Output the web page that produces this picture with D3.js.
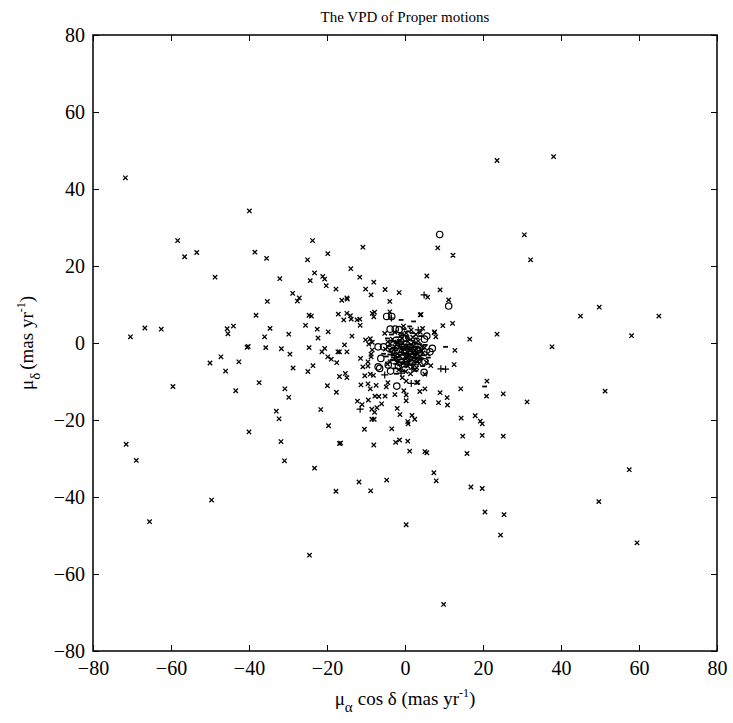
<!DOCTYPE html>
<html>
<head>
<script src="https://d3js.org/d3.v7.min.js"></script>
<meta charset="utf-8">
<style>
body { margin: 0; background: white; }
text { font-family: "Liberation Serif", "DejaVu Serif", serif; fill: black; }
.axis path { display: none; }
.axis line { stroke: black; stroke-width: 1; }
.axis text { font-size: 20px; }
</style>
</head>
<body>
<div id="chart"></div>
<script>

// tick values on both axes
var ticks = [-80, -60, -40, -20, 0, 20, 40, 60, 80];

// field stars (x markers), [pmRA, pmDec] in mas/yr
var crossStars = [
  [-71.7,42.9],[-39.9,34.3],[-58.3,26.6],[-56.5,22.4],[-53.4,23.5],[-38.5,23.6],[-35.5,22.0],[-23.7,26.6],
  [-25.0,21.6],[-19.8,23.2],[-48.7,17.1],[-32.1,16.7],[-23.2,18.2],[-24.3,16.2],[-21.1,17.3],[-20.6,16.6],
  [-20.2,14.9],[-17.7,14.0],[-28.8,12.9],[-27.1,11.7],[-27.6,10.9],[-35.3,10.8],[-38.2,7.2],[-24.6,7.2],
  [-24.0,7.0],[-17.1,7.5],[-66.7,3.9],[-62.5,3.6],[-70.4,1.6],[-45.6,3.7],[-45.4,2.4],[-44.0,4.4],
  [-34.6,3.8],[-36.0,1.6],[-29.8,2.3],[-25.5,4.6],[-22.5,3.6],[-22.3,1.3],[-19.7,2.9],[-40.5,-1.1],
  [-40.2,-0.9],[-35.7,-1.2],[-31.7,-1.5],[-24.6,-1.2],[-20.6,-1.4],
  [-29.5,-2.9],[-21.3,-2.3],[-19.8,-3.6],[-18.9,-4.2],[-17.2,-2.3],[-17.5,-5.1],[-50.0,-5.2],[-47.2,-3.6],
  [-42.6,-4.9],[-46.0,-7.3],[-28.7,-6.5],[-23.6,-5.9],[-24.9,-7.4],[-16.8,-8.7],[-59.5,-11.3],[-37.4,-10.3],
  [-43.4,-12.4],[-30.8,-11.9],[-29.8,-14.1],[-19.9,-11.1],[-17.6,-12.8],[-33.0,-17.7],[-32.3,-19.7],[-21.6,-17.3],
  [-19.6,-21.5],[-40.0,-23.1],[-31.8,-25.6],[-16.8,-26.1],[-71.5,-26.3],[-68.9,-30.5],[-30.9,-30.6],[-23.2,-32.5],
  [-17.7,-38.5],[-49.6,-40.8],[-65.5,-46.4],[-24.5,-55.1],
  [23.6,47.4],[38.1,48.4],[30.6,28.1],[8.4,24.7],[12.3,22.8],[32.2,21.6],[5.6,17.4],[9.0,13.8],
  [5.8,11.9],[11.2,11.2],[4.1,7.4],[49.8,9.3],[45.0,7.0],[65.1,7.0],[9.7,4.5],[12.2,5.1],
  [7.5,2.7],[23.6,2.3],[58.1,1.9],[16.6,1.0],[37.7,-1.0],
  [12.8,-1.9],[12.6,-5.6],[21.0,-9.9],[20.9,-13.8],[25.2,-13.2],[31.3,-15.3],[51.3,-12.5],[14.3,-11.9],
  [5.1,-11.9],[9.0,-12.9],[10.8,-14.2],[4.8,-15.3],[8.6,-15.5],[10.9,-16.1],[14.4,-19.5],[18.0,-18.9],
  [19.3,-20.3],[19.8,-21.0],[14.8,-24.2],[19.8,-24.0],[25.2,-24.2],[5.1,-28.2],[5.6,-28.5],[15.9,-28.7],
  [57.5,-32.9],[7.4,-33.7],[8.0,-35.8],[16.9,-37.4],[19.8,-37.8],[49.7,-41.2],[20.5,-43.9],[25.4,-44.6],
  [24.5,-49.9],[59.5,-51.9],[9.9,-67.9],
  [-10.8,24.9],[-13.9,19.3],[-11.6,17.1],[-8.0,15.8],[-10.1,14.0],[-8.7,12.5],[-5.1,13.9],[-1.5,13.1],[-14.9,11.7],
  [-11.3,-10.9],[-9.5,-10.6],[-8.9,-11.9],[-7.4,-11.0],[-4.4,-10.3],[-4.8,-11.4],[0.3,-9.9],[3.0,-10.3],
  [-0.3,-12.4],[0.3,-13.5],[3.8,-12.6],[-2.6,-13.4],[-7.7,-13.8],[-6.7,-13.9],[-5.1,-13.8],[-9.4,-14.8],
  [-12.2,-15.1],[-11.0,-16.0],[0.3,-15.0],[-6.0,-15.8],[-7.2,-16.8],[-8.5,-17.2],[-7.8,-18.0],[-2.0,-17.0],
  [-1.3,-18.6],[1.8,-18.8],[2.5,-19.8],[0.7,-20.4],[0.8,-21.0],[-8.5,-19.8],[-7.9,-19.8],[-10.4,-22.4],
  [-3.4,-22.3],[-16.5,-26.0],[-8.0,-26.5],[-2.4,-25.8],[-1.4,-25.2],[0.7,-25.5],[1.2,-28.1],[-11.8,-36.1],
  [-4.7,-35.6],[-8.8,-38.4],[0.3,-47.2],
  [-16.2,11.1],[-14.8,11.4],[-3.9,10.8],[-14.9,7.7],[-14.0,7.1],[-15.7,6.0],[-13.8,6.2],[-12.3,6.0],
  [-11.6,6.2],[-11.5,4.6],[-8.4,7.7],[-8.0,6.8],[-7.8,8.0],[-3.9,8.1],[3.9,7.3],[-13.6,1.8],
  [-10.1,0.8],[-8.9,1.1],[-8.4,0.2],[-9.3,-0.3],[7.6,2.9],[7.9,1.6],[-15.5,-0.5],[-16.8,-2.3],
  [-14.9,-2.3],[-8.4,-1.8],[-8.7,-2.9],[-11.4,-4.0],[-9.5,-4.9],[-8.7,-3.6],[-10.8,-6.2],[-9.5,-6.0],
  [-15.3,-7.9],[-14.9,-9.0],[-10.3,-8.5],[-8.9,-8.1],[-8.1,-8.4],[2.5,-7.0],[-0.7,-9.0],[3.3,-10.2],
  [6.6,-5.9],[5.1,-8.1],
  [-1.0,-1.5],[1.5,-0.5],[2.8,-2.5],[-2.2,-4.0],[0.5,-3.8],[-3.8,-0.2],[4.2,-2.0],[-0.8,1.2],
  [2.0,1.5],[-4.5,-5.5],[5.5,-5.0],[4.5,3.8],[-5.2,2.5],[-2.8,-1.6],[1.0,-5.2],[3.2,-4.6],
  [-3.2,1.0],[-2.0,0.2],[-0.5,0.0],[0.8,0.4],[2.2,-0.8],[3.4,0.5],[-3.9,-1.8],[-2.6,-0.9],
  [-1.4,-1.2],[0.2,-1.0],[1.7,-1.8],[3.0,-1.6],[4.3,-0.9],[-3.1,-2.9],[-1.9,-2.8],[-0.7,-2.0],
  [0.6,-2.4],[1.9,-2.5],[3.2,-2.9],[4.6,-2.6],[-2.7,-4.1],[-1.3,-3.4],[0.0,-3.6],[1.3,-3.1],
  [2.5,-3.5],[3.9,-3.4],[-1.9,-5.2],[-0.3,-4.6],[1.1,-4.1],[2.2,-4.8],[3.6,-5.3],[-0.9,-6.6],
  [0.7,-6.0],[2.0,-6.2],[-3.8,-4.9],[5.0,-1.2],[-4.4,0.3],[-1.2,1.8],[0.3,2.6],[1.6,3.4],
  [2.8,2.2],[-2.6,2.8],[-0.4,4.4],[3.9,2.8],[5.8,-2.8],[-5.0,-1.6],[0.2,-7.4],[1.4,-8.0],
  [-1.6,-7.0],[3.0,-6.4]
];

// likely members (open circles)
var circleStars = [
  [-4.7,6.9],[-3.4,6.9],[-3.8,3.6],[-2.5,3.6],[-1.5,3.5],[-6.9,-1.0],[-5.5,-1.0],[5.0,1.0],
  [5.6,1.8],[7.0,-1.4],[6.4,-2.3],[5.1,-4.9],[4.9,-7.6],[-6.9,-6.2],[-4.3,-5.7],[-1.7,-5.9],
  [-6.5,-6.6],[-3.7,-7.3],[-2.1,-11.2],[8.9,28.2],[11.2,9.6],[-6.2,-4.0]
];

// plus markers
var plusStars = [
  [-1.5,-0.2],[0.8,-2.8],[2.6,-4.0],[-2.6,-2.7],[0.0,-5.5],[3.4,3.4],[4.9,12.5],[1.6,-10.5],
  [-11.5,-17.2],[9.2,-6.7],[10.4,-6.8],[-5.2,-8.3],[-3.5,6.5],[-1.0,-7.8],[1.8,-6.8],[-0.5,2.0]
];

// short dash markers
var dashStars = [
  [-3.5,2.2],[-2.0,1.5],[-1.0,2.5],[0.5,1.8],[1.8,2.6],[3.0,1.2],[-2.8,0.4],[-1.5,0.8],
  [0.0,0.5],[1.2,0.9],[2.4,0.2],[3.8,-0.3],[-4.2,-0.8],[-3.0,-1.2],[-1.8,-0.6],[-0.6,-1.0],
  [0.6,-0.4],[1.9,-1.1],[3.1,-0.9],[4.4,-1.6],[-3.6,-2.3],[-2.4,-1.9],[-1.2,-2.4],[0.1,-1.8],
  [1.3,-2.2],[2.5,-1.7],[3.7,-2.5],[-2.9,-3.2],[-1.7,-3.6],[-0.4,-3.0],[0.9,-3.4],[2.1,-2.9],
  [3.3,-3.7],[-3.3,-4.4],[-2.0,-4.7],[-0.8,-4.2],[0.4,-4.9],[1.6,-4.4],[2.9,-5.0],[-1.4,-5.8],
  [0.2,-6.1],[1.5,-5.7],[-2.5,-6.6],[3.8,-4.4],[4.8,-3.2],[-4.8,-3.5],[5.2,-0.5],[-0.2,3.6],
  [1.2,4.3],[2.2,5.6],[-0.6,-7.3],[4.0,1.8],[-4.5,1.2],[6.0,-3.8],[-5.5,-2.8],[-1.0,6.0],
  [0.8,3.0],[-2.2,-8.0],[2.8,-7.2],[4.5,-6.0],[10.4,-1.0],[20.4,-11.3],[-0.5,-5.3],[1.0,-1.3],
  [-0.2,-2.6],[2.0,-3.8],
  [-2.3,0.0],[-0.9,-0.4],[0.4,-0.9],[1.6,-0.3],[2.9,-0.2],[-3.4,-1.5],[-2.1,-1.4],[-0.2,-1.5],
  [1.2,-1.6],[2.6,-2.3],[4.0,-2.0],[-3.0,-3.8],[-1.1,-3.0],[0.3,-2.9],[1.7,-3.7],[3.0,-3.0],
  [-2.4,-5.4],[-0.8,-5.0],[0.9,-5.5],[2.4,-5.5],[-1.6,-4.3],[0.0,-4.2],[1.0,-4.7],[-3.9,-3.0],
  [4.2,-4.0],[-1.3,0.3],[0.6,1.3],[2.0,0.6],[-3.6,0.6],[3.4,-1.2]
];

var width = 733,
    height = 723,
    mLeft = 93, mRight = 717, mTop = 35, mBottom = 651;

var svg = d3.select("#chart").append("svg")
  .attr("width", width)
  .attr("height", height)
  .style("background-color", "white");

var x = d3.scaleLinear().domain([-80, 80]).range([mLeft, mRight]);
var y = d3.scaleLinear().domain([-80, 80]).range([mBottom, mTop]);

var fmt = function(d) { return d < 0 ? "\u2212" + (-d) : d; };

// axes with inward ticks on all four sides
svg.append("g").attr("class", "axis")
  .attr("transform", "translate(0," + mBottom + ")")
  .call(d3.axisBottom(x).tickValues(ticks).tickSize(-6).tickPadding(10).tickFormat(fmt));
svg.append("g").attr("class", "axis")
  .attr("transform", "translate(" + mLeft + ",0)")
  .call(d3.axisLeft(y).tickValues(ticks).tickSize(-6).tickPadding(8).tickFormat(fmt));
svg.append("g").attr("class", "axis")
  .attr("transform", "translate(0," + mTop + ")")
  .call(d3.axisTop(x).tickValues(ticks).tickSize(-6).tickFormat(""));
svg.append("g").attr("class", "axis")
  .attr("transform", "translate(" + mRight + ",0)")
  .call(d3.axisRight(y).tickValues(ticks).tickSize(-6).tickFormat(""));

svg.append("rect")
  .attr("x", mLeft).attr("y", mTop)
  .attr("width", mRight - mLeft).attr("height", mBottom - mTop)
  .attr("fill", "none").attr("stroke", "black").attr("stroke-width", 1.5);

var plot = svg.append("g");

// markers
function drawMarks(data, d, sw) {
  plot.append("g").selectAll("path")
    .data(data).enter().append("path")
    .attr("transform", function(p) { return "translate(" + x(p[0]) + "," + y(p[1]) + ")"; })
    .attr("d", d)
    .attr("fill", "none")
    .attr("stroke", "black")
    .attr("stroke-width", sw);
}

drawMarks(crossStars, "M-2.2,-2.2L2.2,2.2M-2.2,2.2L2.2,-2.2", 1.3);
drawMarks(dashStars, "M-2.4,0H2.4", 1.8);
drawMarks(plusStars, "M-3.5,0H3.5M0,-3.5V3.5", 1.2);
plot.append("g").selectAll("circle")
  .data(circleStars).enter().append("circle")
  .attr("cx", function(p) { return x(p[0]); })
  .attr("cy", function(p) { return y(p[1]); })
  .attr("r", 3.2)
  .attr("fill", "none")
  .attr("stroke", "black")
  .attr("stroke-width", 1.2);

// title and labels
svg.append("text")
  .attr("x", (mLeft + mRight) / 2).attr("y", 22)
  .attr("text-anchor", "middle")
  .style("font-size", "15px")
  .text("The VPD of Proper motions");

var xl = svg.append("text")
  .attr("x", (mLeft + mRight) / 2).attr("y", 705)
  .attr("text-anchor", "middle")
  .style("font-size", "19px");
xl.append("tspan").text("\u03bc");
xl.append("tspan").attr("dy", 7).style("font-size", "15px").text("\u03b1");
xl.append("tspan").attr("dy", -7).attr("dx", 5).text("cos ");
xl.append("tspan").text("\u03b4 (mas  yr");
xl.append("tspan").attr("dy", -8).style("font-size", "12px").text("-1");
xl.append("tspan").attr("dy", 8).text(")");

var yl = svg.append("text")
  .attr("transform", "translate(33," + ((mTop + mBottom) / 2) + ") rotate(-90)")
  .attr("text-anchor", "middle")
  .style("font-size", "19px");
yl.append("tspan").text("\u03bc");
yl.append("tspan").attr("dy", 7).style("font-size", "15px").text("\u03b4");
yl.append("tspan").attr("dy", -7).attr("dx", 3).text("(mas  yr");
yl.append("tspan").attr("dy", -8).style("font-size", "12px").text("-1");
yl.append("tspan").attr("dy", 8).text(")");

</script>
</body>
</html>
